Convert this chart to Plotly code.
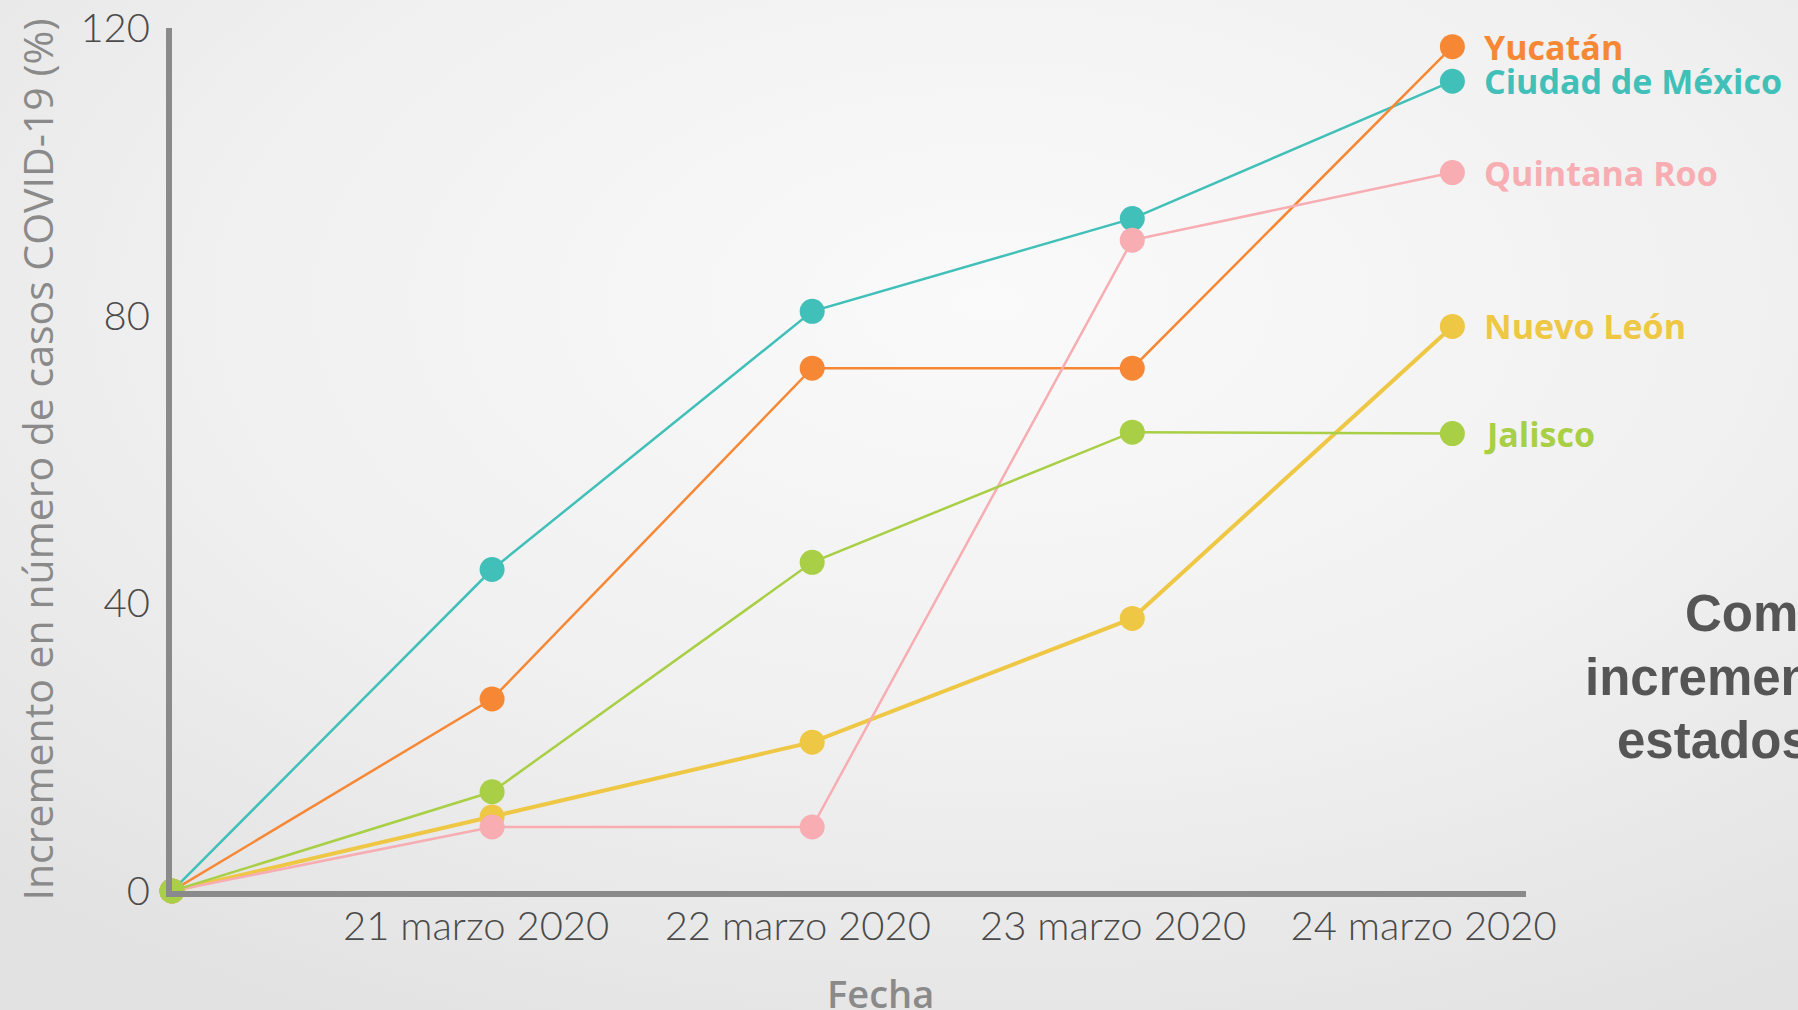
import base64
import plotly.graph_objects as go

# ---------------- data ----------------
fechas = ["21 marzo 2020", "22 marzo 2020", "23 marzo 2020", "24 marzo 2020"]
x_pos = [0, 1, 2, 3, 4]  # 0 = punto de partida (origen)

estados = ["Ciudad de México", "Yucatán", "Nuevo León", "Quintana Roo", "Jalisco"]
cdmx = [0, 44.7, 80.6, 93.5, 112.6]
yucatan = [0, 26.7, 72.7, 72.7, 117.4]
nuevo_leon = [0, 10.3, 20.7, 37.9, 78.5]
quintana_roo = [0, 8.9, 8.9, 90.5, 99.9]
jalisco = [0, 13.8, 45.7, 63.8, 63.6]
y_ticks = [0, 40, 80, 120]

series = [cdmx, yucatan, nuevo_leon, quintana_roo, jalisco]
colores = ["#40c0b8", "#f68835", "#eec745", "#f7adb2", "#a8cf45"]
anchos = [2.5, 2.5, 4, 2.5, 2.5]

# ---------------- figure ----------------
W, H = 1798, 1010
ML, MR, MT, MB = 172, 272, 28, 119
pw, ph = W - ML - MR, H - MT - MB

fig = go.Figure()
for nombre, vals, col, lw in zip(estados, series, colores, anchos):
    fig.add_trace(go.Scatter(
        x=x_pos, y=vals, mode="lines+markers", name=nombre,
        line=dict(color=col, width=lw),
        marker=dict(color=col, size=25),
        cliponaxis=False, showlegend=False,
    ))
    fig.add_annotation(
        x=x_pos[-1], y=vals[-1], xref="x", yref="y",
        text=f"<b>{nombre}</b>", showarrow=False,
        xanchor="left", yanchor="middle", xshift=30,
        font=dict(family="Open Sans, sans-serif", size=34, color=col, weight=800),
    )

# background gradient
svg = (
    f'<svg xmlns="http://www.w3.org/2000/svg" width="{W}" height="{H}" viewBox="0 0 {W} {H}" preserveAspectRatio="none">'
    '<defs><radialGradient id="g" cx="0.55" cy="0.3" r="0.8">'
    '<stop offset="0" stop-color="#fbfafa"/><stop offset="0.55" stop-color="#f1f0f0"/>'
    '<stop offset="1" stop-color="#e2e2e2"/></radialGradient></defs>'
    f'<rect width="{W}" height="{H}" fill="url(#g)"/></svg>'
)
src = "data:image/svg+xml;base64," + base64.b64encode(svg.encode()).decode()
fig.add_layout_image(dict(
    source=src, xref="paper", yref="paper",
    x=-ML / pw, y=1 + MT / ph, sizex=W / pw, sizey=H / ph,
    xanchor="left", yanchor="top", sizing="stretch", layer="below",
))

# partially visible title on right edge (clipped by the page, as in the original)
title_font = dict(family="Liberation Sans, Arial, sans-serif", size=51, color="#555555")
for txt, xl, yc in [("Comparativo del", 1683, 613), ("incremento de casos en", 1583, 677), ("estados seleccionados", 1615, 740)]:
    fig.add_annotation(
        x=(xl - ML) / pw, y=(H - yc - MB) / ph, xref="paper", yref="paper",
        text=f"<b>{txt}</b>", showarrow=False, xanchor="left", yanchor="middle",
        font=title_font,
    )

# x axis title
fig.add_annotation(
    x=(880 - ML) / pw, y=(H - 993 - MB) / ph, xref="paper", yref="paper",
    text="Fecha", showarrow=False, xanchor="center", yanchor="middle",
    font=dict(family="Open Sans, sans-serif", size=38, color="#8a8a8a", weight=600),
)

tick_shift = [-0.05, -0.045, -0.06, -0.09]
tick_font = dict(family="Lato, Open Sans, sans-serif", size=40, color="#4a4a4a", weight=300)
fig.update_layout(
    width=W, height=H,
    margin=dict(l=ML, r=MR, t=MT, b=MB, autoexpand=False),
    paper_bgcolor="#ececec", plot_bgcolor="rgba(0,0,0,0)",
    font=dict(family="Open Sans, sans-serif"),
    xaxis=dict(
        range=[0, 4.23], showgrid=False, zeroline=False, automargin=False,
        showline=True, linecolor="#8a8a8a", linewidth=6,
        tickvals=[p + s for p, s in zip(x_pos[1:], tick_shift)], ticktext=fechas,
        ticks="", tickfont=tick_font, ticklabelstandoff=-5,
    ),
    yaxis=dict(
        range=[0, 120], showgrid=False, zeroline=False, automargin=False,
        showline=True, linecolor="#8a8a8a", linewidth=6,
        tickvals=y_ticks, ticks="", ticklabelstandoff=8,
        tickfont=tick_font,
        title=dict(text="Incremento en número de casos COVID-19 (%)", standoff=16,
                   font=dict(family="Open Sans, sans-serif", size=41, color="#8a8a8a")),
    ),
)

fig.write_html(
    "out.html",
    config={"displayModeBar": False},
    post_script="document.body.style.margin='0';document.body.style.overflow='hidden';",
)
